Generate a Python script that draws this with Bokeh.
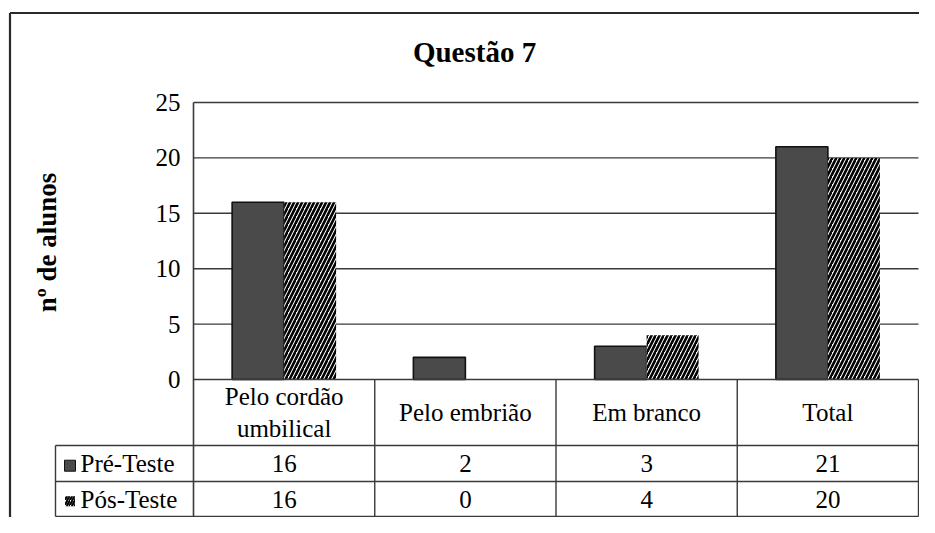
import math
from bokeh.plotting import figure
from bokeh.models import Range1d
from bokeh.core.properties import value
from bokeh.embed import file_html
from bokeh.resources import INLINE

# ---------------- data ----------------
title_text = "Questão 7"
y_label = "nº de alunos"
categories = ["Pelo cordão\numbilical", "Pelo embrião", "Em branco", "Total"]
series_names = ["Pré-Teste", "Pós-Teste"]
pre_teste = [16, 2, 3, 21]
pos_teste = [16, 0, 4, 20]
y_ticks = [0, 5, 10, 15, 20, 25]

# ---------------- layout (pixel positions) ----------------
FIG_W, FIG_H = 919, 517
X0, X_END = 193.0, 918.0          # category area
N = len(categories)
COLW = (X_END - X0) / N
Y0, YTOP = 379.0, 102.0            # value 0 and top tick
PXU = (Y0 - YTOP) / y_ticks[-1]
LEG_L = 55.0
ROW1, ROW2, BOTTOM = 445.0, 481.0, 516.0

def dx(px):
    return (px - X0) / COLW

def dy(py):
    return (Y0 - py) / PXU

SERIF = value("'Liberation Serif', 'Times New Roman', Tinos, serif")
LINE = "#3a3a3a"
TXT = "25px"

p = figure(width=FIG_W, height=FIG_H, output_backend="svg", toolbar_location=None,
           x_range=Range1d(dx(0), dx(FIG_W)),
           y_range=Range1d(dy(FIG_H), dy(0)),
           x_axis_location=None, y_axis_location=None, min_border=0,
           tools="")
p.grid.visible = False
p.outline_line_color = None
p.background_fill_color = "white"
p.border_fill_color = "white"

# outer chart border (left & top)
p.segment(x0=[dx(9.5), dx(9.5)], y0=[dy(12.5), dy(12.5)],
          x1=[dx(9.5), dx(FIG_W)], y1=[dy(FIG_H), dy(12.5)],
          line_color="#2a2a2a", line_width=2.2)

# gridlines
gl = [t for t in y_ticks if t > 0]
p.segment(x0=[0] * len(gl), x1=[N] * len(gl), y0=gl, y1=gl,
          line_color=LINE, line_width=1.4)

# bars
bw = 52.0 / COLW
x_pre = [i + 0.5 - bw / 2 for i in range(N)]
x_pos = [i + 0.5 + bw / 2 for i in range(N)]
p.vbar(x=x_pre, top=pre_teste, bottom=0, width=bw, fill_color="#4a4a4a",
       line_color="#111111", line_width=1.6)
p.vbar(x=x_pos, top=pos_teste, bottom=0, width=bw, fill_color="white",
       line_color=None, hatch_pattern="/", hatch_color="black",
       hatch_scale=8, hatch_weight=2.6)

# y axis line & table lines
p.segment(x0=0, y0=y_ticks[-1], x1=0, y1=dy(BOTTOM), line_color=LINE, line_width=1.6)
p.segment(x0=[0, dx(LEG_L), dx(LEG_L), dx(LEG_L)],
          y0=[0, dy(ROW1), dy(ROW2), dy(BOTTOM)],
          x1=[N, N, N, N],
          y1=[0, dy(ROW1), dy(ROW2), dy(BOTTOM)],
          line_color=LINE, line_width=1.4)
vx = list(range(1, N + 1))
p.segment(x0=vx, x1=vx, y0=[0] * len(vx), y1=[dy(BOTTOM)] * len(vx),
          line_color=LINE, line_width=1.4)
p.segment(x0=dx(LEG_L), x1=dx(LEG_L), y0=dy(ROW1), y1=dy(BOTTOM),
          line_color=LINE, line_width=1.4)

# title
p.text(x=[dx(474)], y=[dy(51)], text=[title_text], text_font=SERIF,
       text_font_style="bold", text_font_size="29px", text_align="center",
       text_baseline="middle", text_color="black")

# y label
p.text(x=[dx(46)], y=[dy(242)], text=[y_label], angle=math.pi / 2,
       text_font=SERIF, text_font_style="bold", text_font_size="27px",
       text_align="center", text_baseline="middle", text_color="black")

# y tick labels
p.text(x=[0] * len(y_ticks), y=y_ticks, text=[str(t) for t in y_ticks],
       x_offset=-13, text_font=SERIF, text_font_size="25px",
       text_align="right", text_baseline="middle", text_color="black")

# category labels
p.text(x=[i + 0.5 for i in range(N)], y=[dy((Y0 + ROW1) / 2)] * N, text=categories,
       text_font=SERIF, text_font_size=TXT,
       text_align="center", text_baseline="middle", text_line_height=1.15,
       text_color="black")

# table values
r1 = dy((ROW1 + ROW2) / 2)
r2 = dy((ROW2 + BOTTOM) / 2)
p.text(x=[i + 0.5 for i in range(N)], y=[r1] * N, text=[str(v) for v in pre_teste],
       text_font=SERIF, text_font_size=TXT,
       text_align="center", text_baseline="middle", text_color="black")
p.text(x=[i + 0.5 for i in range(N)], y=[r2] * N, text=[str(v) for v in pos_teste],
       text_font=SERIF, text_font_size=TXT,
       text_align="center", text_baseline="middle", text_color="black")

# legend keys & names
p.text(x=[dx(80), dx(80)], y=[r1, r2], text=series_names, text_font=SERIF,
       text_font_size=TXT, text_align="left",
       text_baseline="middle", text_color="black")
p.rect(x=[dx(69.5)], y=[r1 - 0.2], width=11, height=11, width_units="screen",
       height_units="screen", fill_color="#4a4a4a", line_color="#111111", line_width=1)
p.rect(x=[dx(69.5)], y=[r2 - 0.2], width=10, height=10, width_units="screen",
       height_units="screen", fill_color="white", line_color=None,
       hatch_pattern="/", hatch_color="black", hatch_scale=5, hatch_weight=2.0)

open("out.html", "w").write(file_html(p, INLINE))
